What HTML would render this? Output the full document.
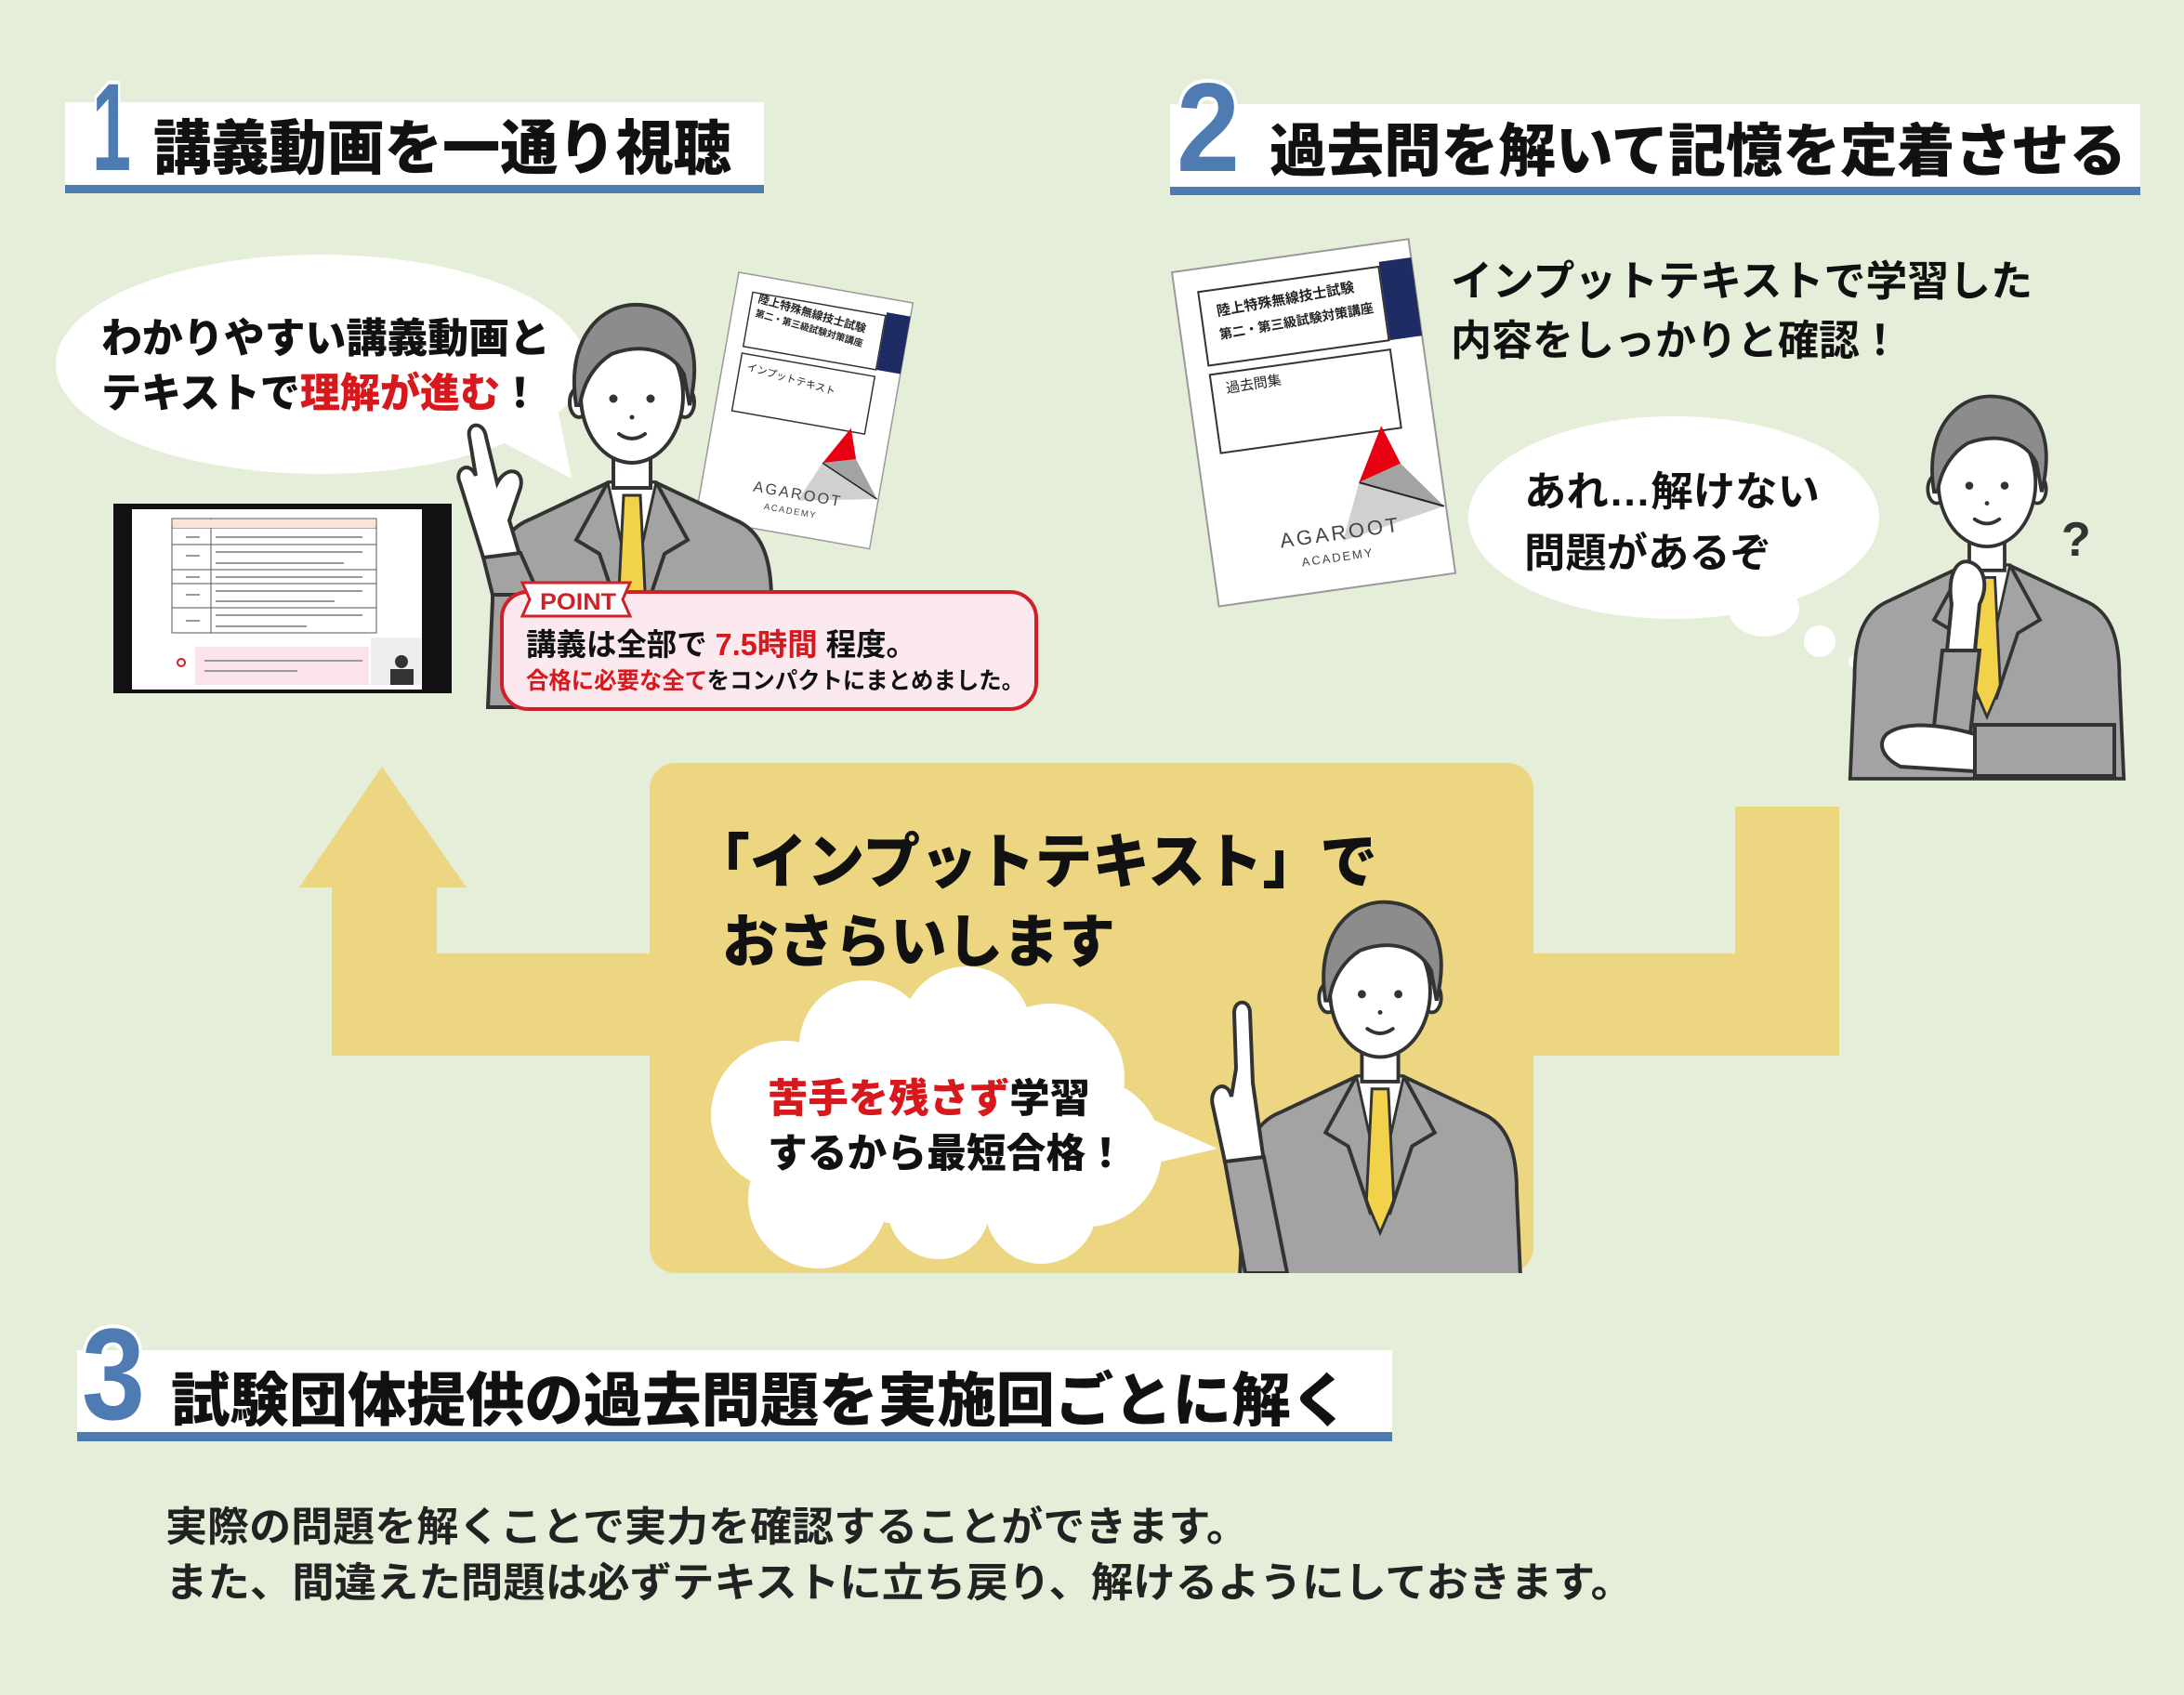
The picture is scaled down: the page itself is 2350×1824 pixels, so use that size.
<!DOCTYPE html>
<html><head><meta charset="utf-8"><style>
html,body{margin:0;padding:0;background:#e4eed8;}
svg{display:block;}
text{font-family:"Liberation Sans","Noto Sans CJK JP",sans-serif;}
</style></head><body>
<svg width="2350" height="1824" viewBox="0 0 2350 1824" xmlns="http://www.w3.org/2000/svg">
<defs>
<g id="man">
  <path d="M-25,98 L-110,138 C-140,150 -150,180 -150,225 L-155,340 L155,340 L150,225 C150,180 140,150 110,138 L25,98 Z" fill="#a3a3a3" stroke="#333" stroke-width="4"/>
  <path d="M-26,98 L0,215 L26,98 Z" fill="#fff" stroke="#333" stroke-width="3"/>
  <path d="M-9,112 L9,112 L15,235 L0,270 L-15,235 Z" fill="#f2d24b" stroke="#333" stroke-width="3"/>
  <path d="M-26,98 L-60,160 L-35,175 L-10,250 M26,98 L60,160 L35,175 L10,250" fill="none" stroke="#333" stroke-width="4"/>
  <rect x="-20" y="62" width="40" height="42" fill="#fff" stroke="#333" stroke-width="4"/>
  <ellipse cx="-57" cy="12" rx="10" ry="16" fill="#fff" stroke="#333" stroke-width="4"/>
  <ellipse cx="57" cy="12" rx="10" ry="16" fill="#fff" stroke="#333" stroke-width="4"/>
  <ellipse cx="0" cy="5" rx="55" ry="72" fill="#fff" stroke="#333" stroke-width="4"/>
  <path d="M-60,15 C-72,-60 -30,-96 8,-93 C55,-90 78,-50 62,15 L56,-18 C42,-45 10,-52 -22,-40 C-38,-30 -52,-12 -56,15 Z" fill="#8c8c8c" stroke="#333" stroke-width="4"/>
  <circle cx="-20" cy="8" r="4.5" fill="#333"/><circle cx="20" cy="8" r="4.5" fill="#333"/>
  <circle cx="0" cy="28" r="2.5" fill="#333"/>
  <path d="M-14,46 Q0,56 14,46" fill="none" stroke="#333" stroke-width="4" stroke-linecap="round"/>
</g>
<g id="book">
  <rect x="0" y="0" width="257" height="363" fill="#fff" stroke="#999" stroke-width="2"/>
  <rect x="222" y="20" width="35" height="85" fill="#1f2b63"/>
  <rect x="25" y="25" width="196" height="80" fill="none" stroke="#333" stroke-width="2"/>
  <rect x="25" y="115" width="196" height="85" fill="none" stroke="#333" stroke-width="2"/>
  <polygon points="200,195 168,252 215,238" fill="#e60012"/>
  <polygon points="168,252 215,238 255,290" fill="#a3a3a3"/>
  <polygon points="168,252 255,290 142,312" fill="#d0d0d0"/>
  <line x1="168" y1="252" x2="255" y2="290" stroke="#222" stroke-width="2"/>
  <text x="75" y="310" font-size="22" fill="#444" letter-spacing="3">AGAROOT</text>
  <text x="95" y="333" font-size="13" fill="#444" letter-spacing="2">ACADEMY</text>
</g>
<clipPath id="clip3"><rect x="0" y="0" width="2350" height="1370"/></clipPath>
</defs>

<rect width="2350" height="1824" fill="#e4eed8"/>

<!-- Header 1 -->
<rect x="70" y="110" width="752" height="90" fill="#fff"/>
<rect x="70" y="199" width="752" height="9" fill="#4f7bb3"/>
<text x="99" y="183" font-size="134" font-weight="700" fill="#4f7bb3" stroke="#fff" stroke-width="8" paint-order="stroke" textLength="42" lengthAdjust="spacingAndGlyphs">1</text>
<text x="165" y="182" font-size="64" font-weight="900" fill="#111" textLength="622" lengthAdjust="spacingAndGlyphs">講義動画を一通り視聴</text>

<!-- Header 2 -->
<rect x="1259" y="112" width="1044" height="90" fill="#fff"/>
<rect x="1259" y="201" width="1044" height="9" fill="#4f7bb3"/>
<text x="1266" y="184" font-size="136" font-weight="700" fill="#4f7bb3" stroke="#fff" stroke-width="8" paint-order="stroke" textLength="68" lengthAdjust="spacingAndGlyphs">2</text>
<text x="1366" y="184" font-size="62" font-weight="900" fill="#111" textLength="922" lengthAdjust="spacingAndGlyphs">過去問を解いて記憶を定着させる</text>

<!-- Header 3 -->
<rect x="83" y="1453" width="1415" height="88" fill="#fff"/>
<rect x="83" y="1541" width="1415" height="10" fill="#4f7bb3"/>
<text x="88" y="1527" font-size="140" font-weight="700" fill="#4f7bb3" stroke="#fff" stroke-width="8" paint-order="stroke" textLength="68" lengthAdjust="spacingAndGlyphs">3</text>
<text x="184" y="1529" font-size="63" font-weight="900" fill="#111" textLength="1268" lengthAdjust="spacingAndGlyphs">試験団体提供の過去問題を実施回ごとに解く</text>

<!-- Body -->
<text x="178" y="1658" font-size="44" font-weight="700" fill="#222" textLength="1165" lengthAdjust="spacingAndGlyphs">実際の問題を解くことで実力を確認することができます。</text>
<text x="178" y="1718" font-size="44" font-weight="700" fill="#222" textLength="1579" lengthAdjust="spacingAndGlyphs">また、間違えた問題は必ずテキストに立ち戻り、解けるようにしておきます。</text>

<!-- Yellow shape -->
<g fill="#edd682">
  <rect x="699" y="821" width="951" height="549" rx="28"/>
  <rect x="357" y="1026" width="345" height="110"/>
  <rect x="357" y="950" width="113" height="186"/>
  <polygon points="411,825 322,955 502,955"/>
  <rect x="1645" y="1026" width="334" height="110"/>
  <rect x="1867" y="868" width="112" height="268"/>
</g>
<text x="745" y="950" font-size="64" font-weight="900" fill="#111" textLength="737" lengthAdjust="spacingAndGlyphs">「インプットテキスト」で</text>
<text x="777" y="1035" font-size="62" font-weight="900" fill="#111" textLength="423" lengthAdjust="spacingAndGlyphs">おさらいします</text>

<!-- Cloud -->
<g fill="#fff">
  <circle cx="930" cy="1125" r="70"/>
  <circle cx="1040" cy="1110" r="70"/>
  <circle cx="1130" cy="1160" r="80"/>
  <circle cx="1170" cy="1240" r="80"/>
  <circle cx="1120" cy="1300" r="60"/>
  <circle cx="1010" cy="1300" r="55"/>
  <circle cx="880" cy="1290" r="75"/>
  <circle cx="845" cy="1200" r="80"/>
  <ellipse cx="1010" cy="1210" rx="200" ry="110"/>
  <polygon points="1230,1200 1310,1236 1250,1250"/>
</g>
<text x="826" y="1197" font-size="43" font-weight="900" textLength="347" lengthAdjust="spacingAndGlyphs"><tspan fill="#d7191e">苦手を残さず</tspan><tspan fill="#111">学習</tspan></text>
<text x="826" y="1256" font-size="43" font-weight="900" fill="#111" textLength="385" lengthAdjust="spacingAndGlyphs">するから最短合格！</text>

<!-- Man 3 -->
<g clip-path="url(#clip3)">
  <use href="#man" transform="translate(1485,1062) scale(0.98)"/>
  <path d="M1318,1250 L1305,1190 C1300,1170 1320,1160 1325,1180 L1330,1150 L1328,1090 C1328,1075 1345,1075 1345,1090 L1348,1165 L1360,1250 Z" fill="#fff" stroke="#333" stroke-width="4"/>
  <path d="M1318,1250 L1360,1245 L1385,1370 L1340,1370 Z" fill="#a3a3a3" stroke="#333" stroke-width="4"/>
</g>

<!-- Speech bubble 1 -->
<g fill="#fff">
  <ellipse cx="345" cy="392" rx="285" ry="118"/>
  <polygon points="530,470 615,515 600,440"/>
</g>
<text x="109" y="379" font-size="44" font-weight="900" fill="#111" textLength="483" lengthAdjust="spacingAndGlyphs">わかりやすい講義動画と</text>
<text x="109" y="438" font-size="44" font-weight="900" textLength="472" lengthAdjust="spacingAndGlyphs"><tspan fill="#111">テキストで</tspan><tspan fill="#d7191e">理解が進む</tspan><tspan fill="#111">！</tspan></text>

<!-- Book 1 -->
<use href="#book" transform="translate(795,293) rotate(10) scale(0.74)"/>
<text font-size="12" font-weight="700" fill="#222" transform="translate(815,325) rotate(16)">陸上特殊無線技士試験</text>
<text font-size="10" font-weight="700" fill="#222" transform="translate(812,340) rotate(16)">第二・第三級試験対策講座</text>
<text font-size="11" fill="#222" transform="translate(803,398) rotate(16)">インプットテキスト</text>

<!-- Man 1 -->
<use href="#man" transform="translate(680,421) scale(1.0)"/>
<path d="M520,600 L495,520 C488,505 505,495 512,512 L505,470 C502,455 520,452 523,470 L535,520 C545,500 565,505 560,525 L548,560 L560,600 Z" fill="#fff" stroke="#333" stroke-width="4"/>
<path d="M520,600 L560,595 L580,640 L530,640 Z" fill="#a3a3a3" stroke="#333" stroke-width="4"/>

<!-- Tablet -->
<rect x="122" y="542" width="364" height="204" fill="#111"/>
<rect x="142" y="548" width="312" height="194" fill="#fff"/>
<g stroke="#555" stroke-width="1" fill="none">
  <rect x="185" y="558" width="220" height="123"/>
  <line x1="185" y1="568" x2="405" y2="568"/>
  <line x1="227" y1="558" x2="227" y2="681"/>
  <line x1="185" y1="586" x2="405" y2="586"/>
  <line x1="185" y1="613" x2="405" y2="613"/>
  <line x1="185" y1="628" x2="405" y2="628"/>
  <line x1="185" y1="654" x2="405" y2="654"/>
</g>
<rect x="186" y="559" width="218" height="9" fill="#fbe3d6"/>
<g stroke="#999" stroke-width="2">
  <line x1="232" y1="578" x2="390" y2="578"/><line x1="232" y1="594" x2="390" y2="594"/><line x1="232" y1="606" x2="370" y2="606"/>
  <line x1="232" y1="621" x2="390" y2="621"/><line x1="232" y1="636" x2="390" y2="636"/><line x1="232" y1="647" x2="360" y2="647"/>
  <line x1="232" y1="662" x2="390" y2="662"/><line x1="232" y1="674" x2="330" y2="674"/>
  <line x1="200" y1="578" x2="215" y2="578"/><line x1="200" y1="598" x2="215" y2="598"/><line x1="200" y1="621" x2="215" y2="621"/><line x1="200" y1="640" x2="215" y2="640"/><line x1="200" y1="668" x2="215" y2="668"/>
</g>
<rect x="210" y="696" width="187" height="41" fill="#fbe3ea"/>
<line x1="220" y1="711" x2="390" y2="711" stroke="#999" stroke-width="2"/>
<line x1="220" y1="722" x2="320" y2="722" stroke="#999" stroke-width="2"/>
<circle cx="195" cy="713" r="4" fill="none" stroke="#d7191e" stroke-width="2"/>
<rect x="399" y="686" width="54" height="51" fill="#eee"/>
<circle cx="432" cy="712" r="7" fill="#333"/>
<rect x="420" y="720" width="25" height="17" fill="#333"/>

<!-- Point box -->
<rect x="540" y="637" width="575" height="126" rx="28" fill="#fbe9ef" stroke="#d0202a" stroke-width="4"/>
<polygon points="562,627 678,627 670,645 678,663 562,663 570,645" fill="#fff" stroke="#d0202a" stroke-width="3"/>
<text x="581" y="656" font-size="25" font-weight="900" fill="#d0202a" textLength="82" lengthAdjust="spacingAndGlyphs">POINT</text>
<text x="566" y="705" font-size="33" font-weight="700" textLength="420" lengthAdjust="spacingAndGlyphs"><tspan fill="#111">講義は全部で </tspan><tspan fill="#d7191e">7.5時間</tspan><tspan fill="#111"> 程度。</tspan></text>
<text x="566" y="741" font-size="25" font-weight="700" textLength="536" lengthAdjust="spacingAndGlyphs"><tspan fill="#d7191e">合格に必要な全て</tspan><tspan fill="#111">をコンパクトにまとめました。</tspan></text>

<!-- Book 2 -->
<use href="#book" transform="translate(1261,293) rotate(-8)"/>
<text font-size="15" font-weight="700" fill="#222" transform="translate(1310,340) rotate(-10)">陸上特殊無線技士試験</text>
<text font-size="14" font-weight="700" fill="#222" transform="translate(1313,365) rotate(-10)">第二・第三級試験対策講座</text>
<text font-size="15" fill="#222" transform="translate(1320,423) rotate(-9)">過去問集</text>

<!-- Right text -->
<text x="1561" y="318" font-size="45" font-weight="700" fill="#111" textLength="626" lengthAdjust="spacingAndGlyphs">インプットテキストで学習した</text>
<text x="1561" y="382" font-size="45" font-weight="700" fill="#111" textLength="484" lengthAdjust="spacingAndGlyphs">内容をしっかりと確認！</text>

<!-- Thought bubble -->
<g fill="#fff">
  <ellipse cx="1801" cy="557" rx="221" ry="109"/>
  <ellipse cx="1898" cy="655" rx="38" ry="30"/>
  <circle cx="1958" cy="690" r="17"/>
  <circle cx="1996" cy="712" r="7"/>
</g>
<text x="1640" y="544" font-size="44" font-weight="700" fill="#111" textLength="318" lengthAdjust="spacingAndGlyphs">あれ…解けない</text>
<text x="1640" y="610" font-size="44" font-weight="700" fill="#111" textLength="266" lengthAdjust="spacingAndGlyphs">問題があるぞ</text>

<!-- Man 2 -->
<use href="#man" transform="translate(2138,515) scale(0.95)"/>
<path d="M2100,650 C2095,620 2105,600 2120,605 C2135,610 2140,630 2130,650 L2125,700 L2095,700 Z" fill="#fff" stroke="#333" stroke-width="4"/>
<path d="M2090,700 L2130,700 L2120,790 L2080,790 Z" fill="#a3a3a3" stroke="#333" stroke-width="4"/>
<path d="M2030,790 C2050,775 2090,780 2125,790 L2125,830 L2045,825 C2025,815 2020,800 2030,790 Z" fill="#fff" stroke="#333" stroke-width="4"/>
<rect x="2125" y="780" width="150" height="55" fill="#a3a3a3" stroke="#333" stroke-width="4"/>
<text x="2218" y="598" font-size="52" font-weight="700" fill="#333">?</text>
</svg>
</body></html>
